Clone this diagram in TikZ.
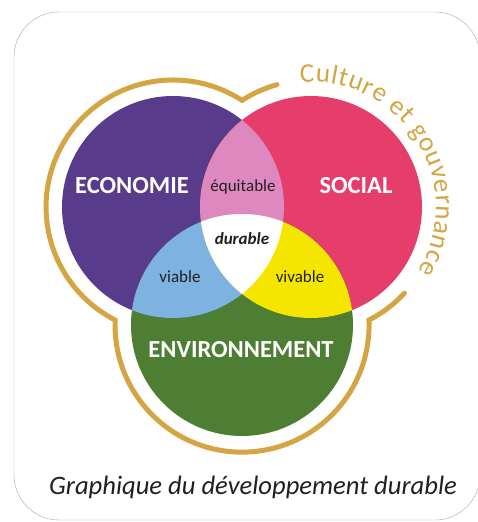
\documentclass[tikz,border=0pt]{standalone}
\usepackage{fontspec}
\setmainfont{Carlito}
\usetikzlibrary{decorations.text}
\definecolor{ecocol}{HTML}{583B8B}
\definecolor{soccol}{HTML}{E63E6B}
\definecolor{pinkcol}{HTML}{DD88BE}
\definecolor{bluecol}{HTML}{7EB2E0}
\definecolor{yellowcol}{HTML}{F4E600}
\definecolor{envcol}{HTML}{4E7E34}
\definecolor{goldcol}{HTML}{D4A542}
\definecolor{inkcol}{HTML}{231F20}
\tikzset{
  bigname/.style={text=white,font=\bfseries\fontsize{24.5}{24.5}\selectfont},
  smallname/.style={text=inkcol,font=\fontsize{17}{17}\selectfont},
  ring/.style={goldcol,line width=5pt,line cap=round,line join=miter}
}
\begin{document}
\begin{tikzpicture}[x=1pt,y=1pt]
\useasboundingbox (0,0) rectangle (478,-522);
\draw[gray!70,rounded corners=45pt] (14,-12) rectangle (480,-520);
% the three circles
\coordinate (eco) at (173,-207);
\coordinate (soc) at (311,-207);
\coordinate (env) at (242,-325);
\fill[ecocol] (eco) circle (111);
\fill[soccol] (soc) circle (111);
\fill[envcol] (env) circle (111);
\begin{scope}
\clip (eco) circle (111);
\fill[pinkcol] (soc) circle (111);
\fill[bluecol] (env) circle (111);
\end{scope}
\begin{scope}
\clip (soc) circle (111);
\fill[yellowcol] (env) circle (111);
\clip (eco) circle (111);
\fill[white] (env) circle (111);
\end{scope}
% gold ring
\draw[ring] (soc) ++(105.5:127) arc[start angle=105.5,end angle=122.9,radius=127]
  arc[start angle=57.1,end angle=242.9,radius=127]
  arc[start angle=177.7,end angle=362.3,radius=127]
  arc[start angle=297.1,end angle=317.3,radius=127];
\path[decorate,decoration={text along path,text align=fit to path,text color=goldcol,
  text={|\fontsize{27}{27}\selectfont|Culture et gouvernance}}]
  (soc) ++(95:125) arc[start angle=95,end angle=-31,radius=125];
% labels
\node[bigname] (economie) at (132,-186) {ECONOMIE};
\node[bigname] (social) at (356,-186) {SOCIAL};
\node[bigname] (environ) at (241,-350) {ENVIRONNEMENT};
\node[smallname] (equit) at (243,-187) {équitable};
\node[smallname,font=\bfseries\itshape\fontsize{17}{17}\selectfont] (durable) at (242,-239) {durable};
\node[smallname] (viable) at (180,-277) {viable};
\node[smallname] (vivable) at (300,-277) {vivable};
\node[text=inkcol,font=\itshape\fontsize{26.6}{26.6}\selectfont] (titre) at (253,-487) {Graphique du développement durable};
\end{tikzpicture}
\end{document}
